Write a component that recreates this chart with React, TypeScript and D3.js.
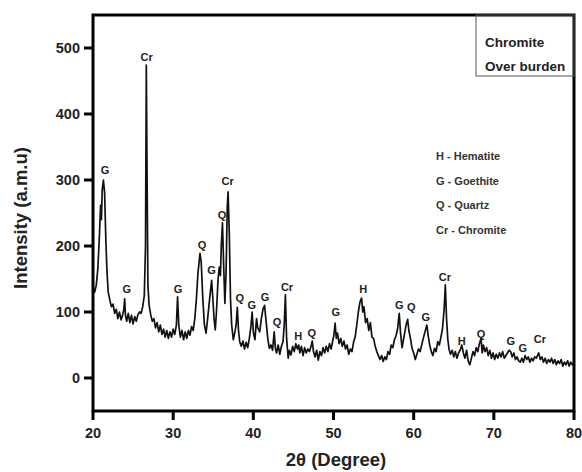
import React from "react";
import * as d3 from "d3";

const twoTheta = [
  20.0, 20.2, 20.4, 20.6, 20.8, 20.95, 21.05, 21.15, 21.3, 21.45, 21.6, 21.75, 21.9, 22.1, 22.3, 22.5, 22.7, 22.9, 23.1, 23.3, 23.5, 23.7, 23.85, 23.95, 24.05, 24.2, 24.4, 24.6, 24.8, 25.0, 25.2, 25.4, 25.6, 25.8, 26.0, 26.2, 26.4, 26.55, 26.65, 26.75, 26.85, 27.0, 27.2, 27.4, 27.6, 27.8, 28.0, 28.2, 28.4, 28.6, 28.8, 29.0, 29.2, 29.4, 29.6, 29.8, 30.0, 30.2, 30.4, 30.55, 30.7, 30.9, 31.1, 31.3, 31.5, 31.7, 31.9, 32.1, 32.3, 32.5, 32.7, 32.9, 33.1, 33.35, 33.5, 33.7, 33.9, 34.1, 34.3, 34.55, 34.8, 34.95, 35.1, 35.25, 35.4, 35.6, 35.75, 35.9, 36.0, 36.15, 36.3, 36.45, 36.6, 36.75, 36.85, 37.0, 37.15, 37.3, 37.5, 37.7, 37.85, 38.0, 38.15, 38.3, 38.5, 38.7, 38.9, 39.1, 39.3, 39.5, 39.7, 39.85, 40.0, 40.2, 40.4, 40.55, 40.8, 41.0, 41.2, 41.4, 41.6, 41.8, 42.0, 42.2, 42.4, 42.6, 42.75, 42.9, 43.1, 43.3, 43.5, 43.7, 43.85, 44.0, 44.15, 44.35, 44.5, 44.7, 44.9, 45.1, 45.3, 45.5, 45.65, 45.8, 46.0, 46.2, 46.4, 46.6, 46.8, 47.0, 47.2, 47.35, 47.5, 47.7, 47.9, 48.1, 48.3, 48.5, 48.7, 48.9, 49.1, 49.3, 49.5, 49.7, 49.9, 50.05, 50.2, 50.35, 50.5, 50.7, 50.9, 51.1, 51.3, 51.5, 51.7, 51.9, 52.1, 52.3, 52.5, 52.7, 52.9, 53.1, 53.3, 53.5, 53.65, 53.8, 54.0, 54.2, 54.4, 54.6, 54.8, 55.0, 55.2, 55.4, 55.6, 55.8, 56.0, 56.2, 56.4, 56.6, 56.8, 57.0, 57.2, 57.4, 57.6, 57.8, 58.0, 58.2, 58.35, 58.55, 58.7, 58.9, 59.05, 59.25, 59.4, 59.6, 59.8, 60.0, 60.2, 60.4, 60.6, 60.8, 61.0, 61.2, 61.5, 61.65, 61.8, 62.0, 62.2, 62.4, 62.6, 62.8, 63.0, 63.2, 63.4, 63.6, 63.8, 63.95, 64.1, 64.25, 64.4, 64.6, 64.8, 65.0, 65.2, 65.4, 65.6, 65.8, 66.0, 66.2, 66.4, 66.6, 66.8, 67.0, 67.2, 67.4, 67.6, 67.8, 68.0, 68.2, 68.4, 68.55, 68.7, 68.9, 69.1, 69.3, 69.5, 69.7, 69.9, 70.1, 70.3, 70.5, 70.7, 70.9, 71.1, 71.3, 71.6, 71.9, 72.1, 72.3, 72.5, 72.7, 72.9, 73.1, 73.3, 73.5, 73.7, 73.9, 74.1, 74.3, 74.5, 74.7, 74.9, 75.1, 75.3, 75.6, 75.8, 76.0, 76.2, 76.4, 76.6, 76.8, 77.0, 77.2, 77.4, 77.6, 77.8, 78.0, 78.2, 78.4, 78.6, 78.8, 79.0, 79.2, 79.4, 79.6, 79.8, 80.0,
];

const intensity = [
  138, 130, 140, 165, 215, 262, 240, 285, 300, 280, 210, 160, 130, 118, 108, 112, 98, 104, 90, 100, 88, 96, 104, 120, 95, 86, 98, 84, 95, 82, 93, 86, 96, 100, 98, 108, 125, 200, 474, 300, 140, 110, 96, 86, 90, 76, 84, 70, 80, 66, 74, 62, 72, 60, 70, 62, 74, 66, 80, 123, 80, 62, 72, 58, 70, 60, 72, 65, 78, 72, 90, 120, 160, 189, 175, 120, 80, 68, 90, 120, 148, 120, 90, 73, 100, 150, 168, 155, 200, 235, 170, 113, 160, 260, 282, 220, 120, 80, 58, 70, 80, 107, 72, 55, 48, 56, 44, 54, 46, 60, 78, 100, 70, 58, 90, 76, 70, 90, 104, 110, 85, 60, 45, 50, 42, 70, 45, 38, 50, 36, 48, 55, 80, 126, 60, 30, 42, 35, 48, 40, 52, 44, 50, 38, 48, 34, 46, 38, 44, 40, 48, 56, 40, 32, 42, 27, 40, 34, 46, 38, 48, 40, 52, 44, 56, 65, 83, 60, 68, 52, 60, 48, 56, 44, 50, 36, 44, 40, 54, 62, 80, 100, 115, 121, 100, 108, 84, 90, 72, 84, 62, 60, 48, 40, 34, 28, 34, 25, 32, 28, 40, 36, 50, 46, 58, 64, 75, 98, 70, 46, 56, 70, 80, 89, 72, 60, 45, 38, 28, 36, 44, 40, 50, 60, 74, 80, 65, 50, 40, 34, 45, 40, 55, 50, 62, 75, 105, 141, 90, 60, 44, 36, 42, 32, 40, 30, 38, 42, 50, 38, 30, 42, 26, 20, 30, 40, 34, 46, 40, 52, 60, 38, 50, 40, 46, 34, 42, 30, 38, 28, 36, 30, 38, 32, 40, 30, 36, 42, 40, 32, 38, 28, 32, 26, 24, 30, 24, 34, 28, 32, 24, 30, 26, 32, 30, 38, 28, 32, 24, 30, 22, 28, 24, 30, 22, 28, 20, 26, 22, 28, 18, 24, 20, 26, 18, 24, 20, 22,
];

const peakLabels = ["G", "G", "Cr", "G", "Q", "G", "Q", "Cr", "Q", "G", "G", "Q", "Cr", "H", "Q", "G", "H", "G", "Q", "G", "Cr", "H", "Q", "G", "G", "Cr"];
const peakPos = [21.5, 24.2, 26.7, 30.6, 33.6, 34.8, 36.1, 36.8, 38.3, 39.8, 41.45, 42.95, 44.2, 45.6, 47.3, 50.3, 53.7, 58.2, 59.7, 61.5, 63.9, 66.0, 68.4, 72.1, 73.6, 75.75];
const peakLabelY = [315, 135, 486, 135, 201, 164, 247, 298, 121, 111, 123, 85, 138, 64, 68, 100, 135, 111, 108, 92, 153, 56, 67, 56, 45, 59];

const xTicks = [20, 30, 40, 50, 60, 70, 80];
const yTicks = [0, 100, 200, 300, 400, 500];
const phaseKey = ["H - Hematite", "G - Goethite", "Q - Quartz", "Cr - Chromite"];
const legendLines = ["Chromite", "Over burden"];

export default function App() {
  const W = 582, H = 472;
  const left = 93, right = 574, top = 15, bottom = 411;
  const x = d3.scaleLinear().domain([20, 80]).range([left, right]);
  const y = d3.scaleLinear().domain([-50, 550]).range([bottom, top]);
  const pts: [number, number][] = twoTheta.map((t, i) => [t, intensity[i]]);
  const line = d3.line<[number, number]>().x(d => x(d[0])).y(d => y(d[1]));
  const font = "Liberation Sans, Arial, sans-serif";
  return (
    <svg width={W} height={H} style={{ position: "absolute", left: 0, top: 0 }} fontFamily={font}>
      <rect x={0} y={0} width={W} height={H} fill="#fff" />
      <path d={line(pts) || ""} fill="none" stroke="#111" strokeWidth={1.7} strokeLinejoin="round" />
      {peakLabels.map((l, i) => (
        <text key={i} x={x(peakPos[i])} y={y(peakLabelY[i])} dy="0.35em" textAnchor="middle" fontSize={11} fontWeight="bold" fill="#222">{l}</text>
      ))}
      <rect x={left} y={top} width={right - left} height={bottom - top} fill="none" stroke="#000" strokeWidth={3} />
      {yTicks.map(t => (
        <g key={t}>
          <line x1={left - 9} x2={left} y1={y(t)} y2={y(t)} stroke="#000" strokeWidth={3} />
          <text x={left - 13} y={y(t)} dy="0.36em" textAnchor="end" fontSize={14.5} fontWeight="bold" fill="#222">{t}</text>
        </g>
      ))}
      {xTicks.map(t => (
        <g key={t}>
          <line x1={x(t)} x2={x(t)} y1={bottom} y2={bottom + 9} stroke="#000" strokeWidth={3} />
          <text x={x(t)} y={bottom + 27} textAnchor="middle" fontSize={14.5} fontWeight="bold" fill="#222">{t}</text>
        </g>
      ))}
      <text x={336} y={466} textAnchor="middle" fontSize={18.5} fontWeight="bold" fill="#222">2θ (Degree)</text>
      <text transform={`translate(27, 218) rotate(-90)`} textAnchor="middle" fontSize={18.5} fontWeight="bold" fill="#222">Intensity (a.m.u)</text>
      <rect x={476} y={top} width={right - 476} height={76 - top} fill="none" stroke="#555" strokeWidth={1} />
      {legendLines.map((l, i) => (
        <text key={l} x={485} y={47 + i * 24} fontSize={13.5} fontWeight="bold" fill="#222">{l}</text>
      ))}
      {phaseKey.map((l, i) => (
        <text key={l} x={436} y={160 + i * 24.7} fontSize={11} fontWeight="bold" fill="#333">{l}</text>
      ))}
    </svg>
  );
}
